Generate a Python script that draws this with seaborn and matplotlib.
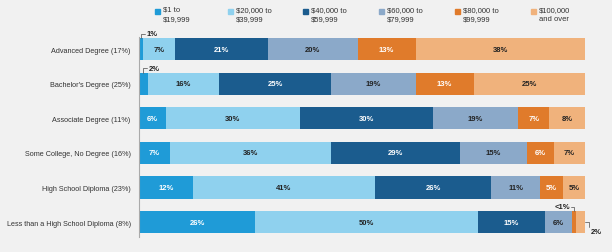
import seaborn as sns
import matplotlib.pyplot as plt
import pandas as pd
import numpy as np

# Datos
education = ["Advanced Degree (17%)", "Bachelor's Degree (25%)", "Associate Degree (11%)",
             "Some College, No Degree (16%)", "High School Diploma (23%)",
             "Less than a High School Diploma (8%)"]
brackets = ["$1 to\n$19,999", "$20,000 to\n$39,999", "$40,000 to\n$59,999",
            "$60,000 to\n$79,999", "$80,000 to\n$99,999", "$100,000\nand over"]
inc_1_19 = [1, 2, 6, 7, 12, 26]
inc_20_39 = [7, 16, 30, 36, 41, 50]
inc_40_59 = [21, 25, 30, 29, 26, 15]
inc_60_79 = [20, 19, 19, 15, 11, 6]
inc_80_99 = [13, 13, 7, 6, 5, 1]
inc_100 = [38, 25, 8, 7, 5, 2]
labels_text = [["1%", "7%", "21%", "20%", "13%", "38%"],
               ["2%", "16%", "25%", "19%", "13%", "25%"],
               ["6%", "30%", "30%", "19%", "7%", "8%"],
               ["7%", "36%", "29%", "15%", "6%", "7%"],
               ["12%", "41%", "26%", "11%", "5%", "5%"],
               ["26%", "50%", "15%", "6%", "<1%", "2%"]]

colores = ["#1f9bd7", "#8fd1ee", "#1b5c8e", "#8ba9c9", "#e07b2b", "#f0b27c"]
txt_col = ["white", "#222222", "white", "#222222", "white", "#222222"]

series = [inc_1_19, inc_20_39, inc_40_59, inc_60_79, inc_80_99, inc_100]
vals = np.array(series)            # 6 x 6 (tramo, educacion)
cum = np.cumsum(vals, axis=0)

df = pd.DataFrame({"Educacion": education})
for i in range(6):
    df["c%d" % i] = cum[i]

sns.set_style("white")
plt.rcParams["font.family"] = ["Liberation Sans Narrow", "Liberation Sans", "DejaVu Sans"]

fig = plt.figure(figsize=(6.12, 2.53), dpi=100, facecolor="#f1f1f1")
ax = fig.add_axes([139 / 612, 15 / 253, 446 / 612, 200 / 253])
ax.set_facecolor("#f1f1f1")

# barras apiladas: dibujar acumulados de mayor a menor
for i in range(5, -1, -1):
    sns.barplot(data=df, x="c%d" % i, y="Educacion", color=colores[i],
                width=0.64, orient="h", ax=ax, saturation=1, edgecolor="none")

# etiquetas dentro de las barras
for r in range(6):
    for i in range(6):
        izq = cum[i, r] - vals[i, r]
        if vals[i, r] < 3:
            continue
        ax.text(izq + vals[i, r] / 2, r, labels_text[r][i], ha="center", va="center",
                fontsize=5.5, fontweight="bold", color=txt_col[i])

# etiquetas de segmentos pequeños con corchetes
lc = "#666666"
tk = dict(fontsize=5.5, fontweight="bold", color="#222222", va="center")
top = 0.32
# 1% (Advanced)
x0 = vals[0, 0] / 2
ax.plot([x0, x0, x0 + 0.8], [-top, -0.44, -0.44], color=lc, lw=0.6, clip_on=False)
ax.text(x0 + 1.3, -0.45, labels_text[0][0], ha="left", **tk)
# 2% (Bachelor's)
x0 = vals[0, 1] / 2
ax.plot([x0, x0, x0 + 0.8], [1 - top, 0.56, 0.56], color=lc, lw=0.6, clip_on=False)
ax.text(x0 + 1.3, 0.55, labels_text[1][0], ha="left", **tk)
# <1% (Less than HS)
x0 = cum[4, 5] - vals[4, 5] / 2
ax.plot([x0 - 0.6, x0, x0], [4.55, 4.55, 5 - top], color=lc, lw=0.6, clip_on=False)
ax.text(x0 - 0.9, 4.54, labels_text[5][4], ha="right", **tk)
# 2% (Less than HS)
x0 = cum[5, 5]
ax.plot([x0, x0 + 1.0, x0 + 1.0], [5.0, 5.0, 5.15], color=lc, lw=0.6, clip_on=False)
ax.text(x0 + 1.3, 5.27, labels_text[5][5], ha="left", **tk)

ax.set_xlim(0, 100)
ax.set_ylim(5.43, -0.35)
ax.set_xlabel("")
ax.set_ylabel("")
ax.set_xticks([])
ax.tick_params(axis="y", length=0, labelsize=5.2, labelcolor="#333333", pad=6)
sns.despine(ax=ax, top=True, right=True, bottom=True)
ax.spines["left"].set_color("#aaaaaa")
ax.spines["left"].set_linewidth(0.8)

# leyenda manual arriba
leg_x = [155, 228, 303, 379, 455, 531]
for i in range(6):
    fig.patches.append(plt.Rectangle((leg_x[i] / 612, 1 - 15 / 253), 5 / 612, 5 / 253,
                                     transform=fig.transFigure, color=colores[i]))
    fig.text((leg_x[i] + 8) / 612, 1 - 7 / 253, brackets[i], fontsize=5.5,
             color="#333333", va="top", ha="left", linespacing=1.35)

plt.savefig("out.png", dpi=100, facecolor=fig.get_facecolor())
